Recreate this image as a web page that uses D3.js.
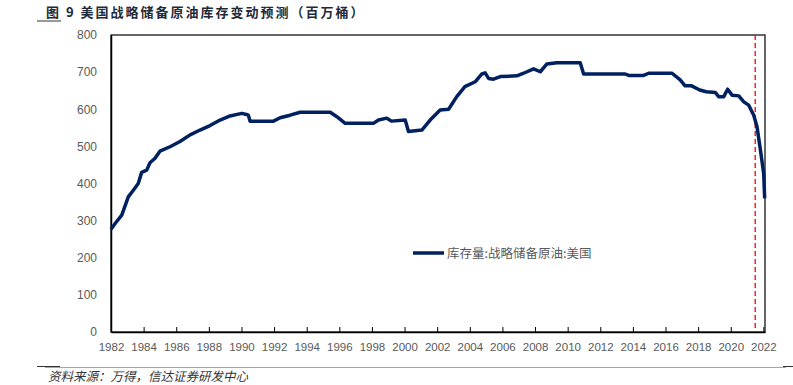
<!DOCTYPE html>
<html>
<head>
<meta charset="utf-8">
<script src="https://cdn.jsdelivr.net/npm/d3@7"></script>
<style>
  body { margin: 0; background: #fff; }
  svg { display: block; }
</style>
</head>
<body>
<svg width="793" height="385"></svg>
<script>
// values (decimal year, million barrels)
var years = [1982.0, 1982.3, 1982.66, 1983.06, 1983.37, 1983.67, 1983.88, 1984.19, 1984.39, 1984.7,
  1985.0, 1985.62, 1986.23, 1986.85, 1987.46, 1988.07, 1988.69, 1989.3, 1990.02, 1990.3,
  1990.42, 1990.53, 1991.96, 1992.37, 1992.98, 1993.6, 1995.44, 1995.85, 1996.36, 1998.09,
  1998.4, 1998.91, 1999.2, 2000.04, 2000.24, 2001.06, 2001.57, 2002.18, 2002.7, 2003.2,
  2003.7, 2004.33, 2004.74, 2004.94, 2005.15, 2005.45, 2005.87, 2006.89, 2007.3, 2007.91,
  2008.32, 2008.73, 2009.34, 2010.77, 2010.98, 2013.53, 2013.74, 2014.66, 2014.97, 2016.4,
  2016.9, 2017.2, 2017.6, 2018.1, 2018.5, 2019.06, 2019.26, 2019.57, 2019.81, 2020.08,
  2020.49, 2020.8, 2021.1, 2021.41, 2021.61, 2021.82, 2022.02, 2022.08];
var stock = [277, 295, 315, 364, 382, 400, 430, 436, 456, 468,
  487, 499, 513, 531, 544, 556, 571, 582, 589, 586,
  584, 568, 568, 577, 584, 592, 592, 580, 562, 562,
  571, 576, 568, 571, 540, 544, 571, 598, 600, 634,
  661, 674, 695, 698, 683, 681, 688, 690, 697, 709,
  701, 722, 725, 725, 695, 695, 691, 691, 697, 697,
  679, 663, 663, 652, 647, 645, 634, 634, 654, 638,
  636, 620, 611, 584, 553, 490, 427, 360];
var xTicks = d3.range(1982, 2023, 2);
var yTicks = [0, 100, 200, 300, 400, 500, 600, 700, 800];
var forecastStart = 2021.5;
var seriesName = "库存量:战略储备原油:美国";

var svg = d3.select("svg");
var plotL = 111, plotR = 765, plotT = 35, plotB = 332;

var x = d3.scaleLinear().domain([1982, 2022.1]).range([plotL, plotR]);
var y = d3.scaleLinear().domain([0, 800]).range([plotB, plotT]);

// title
svg.append("text")
  .attr("x", 46).attr("y", 17)
  .style("font-family", "'Noto Sans CJK SC'")
  .style("font-size", "13px")
  .style("font-weight", "bold")
  .style("letter-spacing", "2px")
  .attr("fill", "#1e2a3a")
  .text("图 9  美国战略储备原油库存变动预测（百万桶）");
svg.append("line")
  .attr("x1", 37).attr("x2", 61).attr("y1", 21).attr("y2", 21)
  .attr("stroke", "#333").attr("stroke-width", 1);

// plot frame
svg.append("rect")
  .attr("x", plotL).attr("y", plotT)
  .attr("width", plotR - plotL).attr("height", plotB - plotT)
  .attr("fill", "none").attr("stroke", "#000").attr("stroke-width", 1.2);

// y axis labels
var yAxis = svg.append("g")
  .attr("transform", "translate(" + plotL + ",0)")
  .call(d3.axisLeft(y).tickValues(yTicks).tickSize(0).tickPadding(14));
yAxis.select(".domain").attr("stroke", "#000").attr("stroke-width", 1.5);
yAxis.selectAll("text")
  .style("font-family", "'Liberation Sans', Arial, sans-serif")
  .style("font-size", "12px")
  .attr("fill", "#595959");

// x axis, ticks point inwards
var xAxis = svg.append("g")
  .attr("transform", "translate(0," + plotB + ")")
  .call(d3.axisBottom(x).tickValues(xTicks).tickFormat(d3.format("d")).tickSizeInner(-5).tickSizeOuter(0).tickPadding(11));
xAxis.select(".domain").attr("stroke", "#000").attr("stroke-width", 1.5);
xAxis.selectAll(".tick line").attr("stroke", "#000");
xAxis.selectAll("text")
  .style("font-family", "'Liberation Sans', Arial, sans-serif")
  .style("font-size", "11.5px")
  .attr("fill", "#595959");

// forecast marker
svg.append("line")
  .attr("x1", x(forecastStart)).attr("x2", x(forecastStart))
  .attr("y1", plotT).attr("y2", plotB)
  .attr("stroke", "#ff0000").attr("stroke-width", 1.3)
  .attr("stroke-dasharray", "5,3");

// series line
var pts = years.map(function(d, i) { return [d, stock[i]]; });
svg.append("path")
  .datum(pts)
  .attr("fill", "none")
  .attr("stroke", "#002060")
  .attr("stroke-width", 3.5)
  .attr("stroke-linejoin", "round")
  .attr("d", d3.line()
    .x(function(d) { return x(d[0]); })
    .y(function(d) { return y(d[1]); }));

// legend
svg.append("line")
  .attr("x1", 413).attr("x2", 444).attr("y1", 253).attr("y2", 253)
  .attr("stroke", "#002060").attr("stroke-width", 3.5);
svg.append("text")
  .attr("x", 447).attr("y", 258)
  .style("font-family", "'Noto Sans CJK SC'")
  .style("font-size", "12.5px")
  .attr("fill", "#595959")
  .text(seriesName);

// footer
svg.append("line")
  .attr("x1", 45).attr("x2", 786).attr("y1", 367.5).attr("y2", 367.5)
  .attr("stroke", "#a6a6a6").attr("stroke-width", 1);
svg.append("line")
  .attr("x1", 37).attr("x2", 60).attr("y1", 366.5).attr("y2", 366.5)
  .attr("stroke", "#333").attr("stroke-width", 1);
svg.append("line")
  .attr("x1", 783).attr("x2", 793).attr("y1", 366.5).attr("y2", 366.5)
  .attr("stroke", "#333").attr("stroke-width", 1);
svg.append("text")
  .attr("x", 48).attr("y", 381)
  .style("font-family", "'Noto Sans CJK SC'")
  .style("font-size", "12.5px")
  .style("font-style", "italic")
  .attr("fill", "#333")
  .text("资料来源：万得，信达证券研发中心");
</script>
</body>
</html>
